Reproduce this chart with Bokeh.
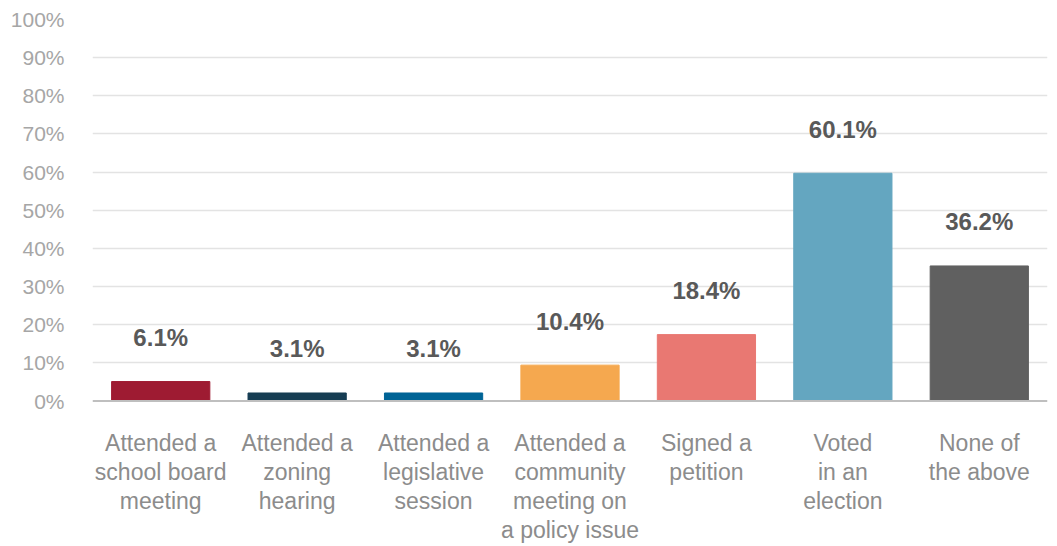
from bokeh.plotting import figure
from bokeh.models import ColumnDataSource, FixedTicker, Range1d, Span
from bokeh.core.properties import value
from bokeh.embed import file_html
from bokeh.resources import INLINE

categories = [
    "Attended a\nschool board\nmeeting",
    "Attended a\nzoning\nhearing",
    "Attended a\nlegislative\nsession",
    "Attended a\ncommunity\nmeeting on\na policy issue",
    "Signed a\npetition",
    "Voted\nin an\nelection",
    "None of\nthe above",
]
bar_values = [5.1, 2.1, 2.1, 9.4, 17.4, 59.7, 35.4]
value_labels = ["6.1%", "3.1%", "3.1%", "10.4%", "18.4%", "60.1%", "36.2%"]
colors = ["#9e1b32", "#163d53", "#006496", "#f5a84f", "#e97872", "#64a6c0", "#606060"]
y_ticks = [0, 10, 20, 30, 40, 50, 60, 70, 80, 90, 100]
y_tick_labels = ["0%", "10%", "20%", "30%", "40%", "50%", "60%", "70%", "80%", "90%", "100%"]

FONT = "Liberation Sans"

W, H = 1057, 546
TOP, FRAME_H_100 = 19, 381.5          # px from top to 100%, px for 0..100
px_per_unit = FRAME_H_100 / 100.0
y_min = -(H - TOP - FRAME_H_100) / px_per_unit

src = ColumnDataSource(dict(cat=categories, val=bar_values, lab=value_labels, col=colors,
                            base=[0] * len(categories)))

p = figure(
    x_range=categories,
    y_range=Range1d(y_min, 100),
    width=W,
    height=H,
    output_backend="svg",
    toolbar_location=None,
    min_border_left=92,
    min_border_right=10,
    min_border_top=TOP,
    min_border_bottom=0,
)
p.outline_line_color = None
p.background_fill_color = "white"
p.border_fill_color = "white"

p.vbar(x="cat", top="val", width=0.72, color="col", source=src)

# baseline (x axis line)
p.add_layout(Span(location=0, dimension="width", line_color="#bfbfbf", line_width=2))

# value labels above bars
p.text(x="cat", y="val", text="lab", source=src,
       y_offset=-44, text_align="center", text_baseline="middle",
       text_font=value(FONT), text_font_size="24px", text_font_style="bold",
       text_color="#595959")

# category labels below baseline
p.text(x="cat", y="base", text="cat", source=src,
       y_offset=29, text_align="center", text_baseline="top",
       text_font=value(FONT), text_font_size="23px",
       text_color="#8c8c8c", text_line_height=1.11)

# y axis
p.yaxis.ticker = FixedTicker(ticks=y_ticks)
p.yaxis.major_label_overrides = {t: l for t, l in zip(y_ticks, y_tick_labels)}
p.yaxis.axis_line_color = None
p.yaxis.major_tick_line_color = None
p.yaxis.major_tick_out = 0
p.yaxis.major_tick_in = 0
p.yaxis.minor_tick_line_color = None
p.yaxis.major_label_standoff = 28
p.yaxis.major_label_text_font = FONT
p.yaxis.major_label_text_font_size = "21px"
p.yaxis.major_label_text_color = "#a6a6a6"

p.xaxis.visible = False
p.xgrid.grid_line_color = None
p.ygrid.ticker = FixedTicker(ticks=y_ticks[1:])
p.ygrid.grid_line_color = "#e3e3e3"
p.ygrid.grid_line_width = 1.5
p.x_range.range_padding = 0

open("out.html", "w").write(file_html(p, INLINE))
